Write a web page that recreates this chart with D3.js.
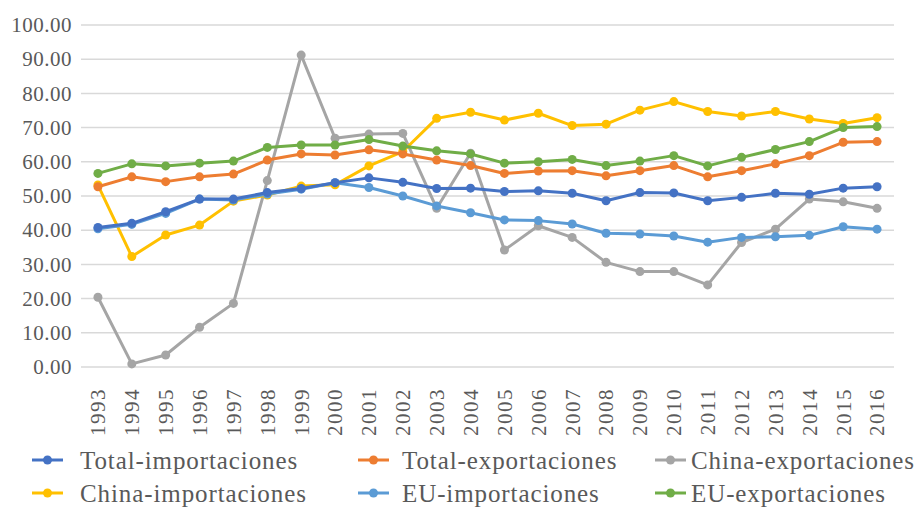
<!DOCTYPE html>
<html>
<head>
<meta charset="utf-8">
<script src="https://cdn.jsdelivr.net/npm/d3@7"></script>
<style>
  body { margin: 0; background: #fff; }
  svg { display: block; font-family: "Liberation Serif", "DejaVu Serif", serif; }
</style>
</head>
<body>
<svg id="chart" width="917" height="507"></svg>
<script>
var years = ["1993","1994","1995","1996","1997","1998","1999","2000","2001","2002","2003","2004",
  "2005","2006","2007","2008","2009","2010","2011","2012","2013","2014","2015","2016"];
var yTicks = [0, 10, 20, 30, 40, 50, 60, 70, 80, 90, 100];

var totalImportaciones = [40.8,42.0,45.4,49.1,49.1,51.0,52.2,53.9,55.3,54.0,52.2,52.3,51.3,51.5,50.8,48.6,51.0,50.9,48.6,49.6,50.8,50.5,52.3,52.7];
var totalExportaciones = [52.7,55.6,54.2,55.6,56.4,60.5,62.3,62.0,63.5,62.3,60.5,58.9,56.6,57.3,57.4,55.9,57.4,58.9,55.6,57.4,59.4,61.8,65.7,65.9];
var chinaExportaciones = [20.4,0.9,3.5,11.6,18.6,54.5,91.2,66.9,68.1,68.3,46.4,62.5,34.2,41.3,37.9,30.6,27.9,27.9,24.0,36.4,40.3,49.1,48.3,46.4];
var chinaImportaciones = [53.2,32.3,38.6,41.5,48.5,50.3,52.9,53.3,58.8,63.0,72.7,74.5,72.2,74.2,70.6,71.0,75.1,77.6,74.7,73.4,74.7,72.5,71.2,72.9];
var euImportaciones = [40.4,41.7,44.9,49.1,48.8,50.6,52.0,53.9,52.5,50.0,47.1,45.1,43.0,42.8,41.8,39.1,38.9,38.3,36.5,37.9,38.1,38.5,41.0,40.3];
var euExportaciones = [56.6,59.4,58.8,59.6,60.2,64.2,64.9,64.9,66.5,64.6,63.2,62.3,59.6,60.0,60.7,58.9,60.2,61.8,58.8,61.3,63.6,65.9,70.0,70.3];

var series = [
  {name: "Total-importaciones", color: "#4472C4", values: totalImportaciones},
  {name: "Total-exportaciones", color: "#ED7D31", values: totalExportaciones},
  {name: "China-exportaciones", color: "#A5A5A5", values: chinaExportaciones},
  {name: "China-importaciones", color: "#FFC000", values: chinaImportaciones},
  {name: "EU-importaciones", color: "#5B9BD5", values: euImportaciones},
  {name: "EU-exportaciones", color: "#70AD47", values: euExportaciones}
];
// draw order (last on top)
var drawOrder = [2, 3, 4, 0, 1, 5];

var svg = d3.select("#chart");
var plotLeft = 81, plotRight = 894, plotTop = 25, plotBottom = 367;

var x = d3.scaleBand().domain(years).range([plotLeft, plotRight]);
var y = d3.scaleLinear().domain([0, 100]).range([plotBottom, plotTop]);

// gridlines
svg.append("g")
  .selectAll("line")
  .data(yTicks)
  .join("line")
  .attr("x1", plotLeft)
  .attr("x2", plotRight)
  .attr("y1", function(d) { return y(d); })
  .attr("y2", function(d) { return y(d); })
  .attr("stroke", "#d9d9d9")
  .attr("stroke-width", 1.5);

// y labels
var yAxis = svg.append("g")
  .attr("transform", "translate(" + (plotLeft - 9) + ",0)")
  .call(d3.axisLeft(y).tickValues(yTicks).tickFormat(d3.format(".2f")).tickSize(0).tickPadding(0));
yAxis.select(".domain").remove();
yAxis.selectAll("text")
  .attr("font-family", "Liberation Serif, DejaVu Serif, serif")
  .attr("font-size", 21)
  .attr("letter-spacing", 0.5)
  .attr("fill", "#595959");

// x labels
var xAxis = svg.append("g")
  .attr("transform", "translate(0," + (plotBottom + 21) + ")")
  .call(d3.axisBottom(x).tickSize(0));
xAxis.select(".domain").remove();
xAxis.selectAll("text")
  .attr("font-family", "Liberation Serif, DejaVu Serif, serif")
  .attr("font-size", 21)
  .attr("letter-spacing", 1.5)
  .attr("fill", "#595959")
  .attr("transform", "rotate(-90)")
  .attr("text-anchor", "end")
  .attr("x", 0)
  .attr("y", 0)
  .attr("dx", 0)
  .attr("dy", "0.35em");

var line = d3.line()
  .x(function(d, i) { return x(years[i]) + x.bandwidth() / 2; })
  .y(function(d) { return y(d); });

drawOrder.forEach(function(k) {
  var s = series[k];
  var g = svg.append("g");
  g.append("path")
    .attr("d", line(s.values))
    .attr("fill", "none")
    .attr("stroke", s.color)
    .attr("stroke-width", 3)
    .attr("stroke-linejoin", "round");
  g.selectAll("circle")
    .data(s.values)
    .join("circle")
    .attr("cx", function(d, i) { return x(years[i]) + x.bandwidth() / 2; })
    .attr("cy", function(d) { return y(d); })
    .attr("r", 4.5)
    .attr("fill", s.color);
});

// legend: [marker start, text start, row y]
var legendPos = [[32, 80, 460], [358, 402, 460], [655, 691, 460],
                 [32, 80, 493], [358, 402, 493], [655, 691, 493]];
series.forEach(function(s, i) {
  var p = legendPos[i];
  var lg = svg.append("g").attr("transform", "translate(0," + p[2] + ")");
  lg.append("line")
    .attr("x1", p[0]).attr("x2", p[0] + 31)
    .attr("y1", 0).attr("y2", 0)
    .attr("stroke", s.color)
    .attr("stroke-width", 3);
  lg.append("circle")
    .attr("cx", p[0] + 15.5).attr("cy", 0).attr("r", 4.5)
    .attr("fill", s.color);
  lg.append("text")
    .attr("x", p[1])
    .attr("y", 0)
    .attr("dy", "0.36em")
    .attr("font-size", 25)
    .attr("letter-spacing", 0.9)
    .attr("fill", "#595959")
    .text(s.name);
});
</script>
</body>
</html>
